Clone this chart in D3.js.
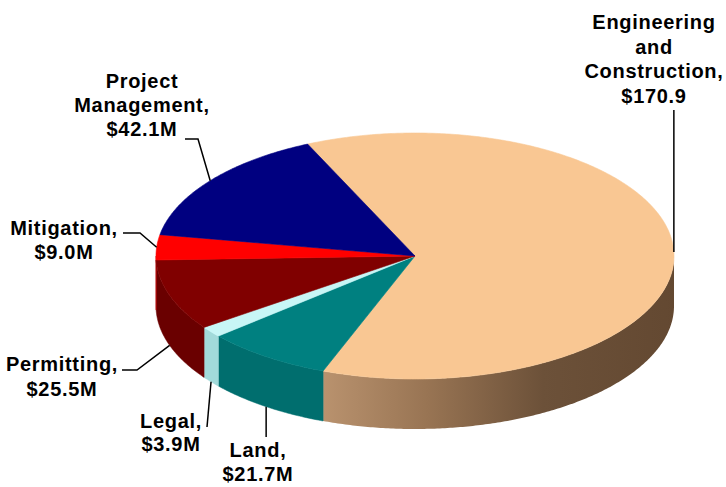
<!DOCTYPE html>
<html>
<head>
<meta charset="utf-8">
<script src="https://cdn.jsdelivr.net/npm/d3@7"></script>
<style>
  html, body { margin: 0; padding: 0; background: #ffffff; }
  svg { display: block; }
  .lbl { font-family: "Liberation Sans", Arial, sans-serif; font-weight: bold; font-size: 20px; fill: #000; letter-spacing: 0.7px; }
</style>
</head>
<body>
<script>
// ---- Data ----
const categories = ["Engineering and Construction", "Land", "Legal", "Permitting", "Mitigation", "Project Management"];
const values = [170.9, 21.7, 3.9, 25.5, 9.0, 42.1];
const labelLines = [
  ["Engineering", "and", "Construction,", "$170.9"],
  ["Land,", "$21.7M"],
  ["Legal,", "$3.9M"],
  ["Permitting,", "$25.5M"],
  ["Mitigation,", "$9.0M"],
  ["Project", "Management,", "$42.1M"]
];

// ---- Styles ----
const topColors  = ["#F9C793", "#008080", "#C8F6F6", "#800000", "#FF0000", "#000080"];
const sideColors = [null,       "#006E6E", "#A2DADA", "#6A0000", "#C00000", "#000060"];

// ---- Layout ----
const W = 726, H = 487;
const cx = 415, cy = 256, rx = 259, ry = 123, depth = 50;
const startDeg = -24.5;
// label layout: text centre x, first baseline y, line height, leader points (after anchor)
const labelLayout = [
  { x: 654, y: 29, lh: 24.5, leader: a => [[a[0], 110]] },
  { x: 258, y: 457, lh: 24, leader: a => [[a[0], 437]] },
  { x: 171, y: 428, lh: 23, leader: a => [[207, 427]] },
  { x: 62, y: 371, lh: 25, leader: a => [[137, 370], [122, 370]] },
  { x: 64, y: 235, lh: 24, leader: a => [[140, 233], [123, 233]] },
  { x: 142, y: 88, lh: 24, leader: a => [[198, 139], [185, 139]] }
];

const svg = d3.select("body").append("svg").attr("width", W).attr("height", H);
const defs = svg.append("defs");

const pie = d3.pie().sort(null).value(d => d)
  .startAngle(startDeg * Math.PI / 180)
  .endAngle(startDeg * Math.PI / 180 + 2 * Math.PI);
const arcs = pie(values);

const pt = (a, dy = 0) => [cx + rx * Math.sin(a), cy - ry * Math.cos(a) + dy];
const sample = (a0, a1, dy) => {
  const n = Math.max(2, Math.ceil(Math.abs(a1 - a0) / 0.01));
  return d3.range(n + 1).map(i => pt(a0 + (a1 - a0) * i / n, dy));
};

// side gradient for the large slice
const g0 = defs.append("linearGradient").attr("id", "sideGrad0")
  .attr("gradientUnits", "userSpaceOnUse").attr("x1", 320).attr("x2", 680).attr("y1", 0).attr("y2", 0);
g0.append("stop").attr("offset", "0").attr("stop-color", "#BA936F");
g0.append("stop").attr("offset", "0.3").attr("stop-color", "#987453");
g0.append("stop").attr("offset", "0.62").attr("stop-color", "#6C5139");
g0.append("stop").attr("offset", "1").attr("stop-color", "#634831");

// ---- Side walls (front half only) ----
const sides = svg.append("g");
arcs.forEach((d, i) => {
  const f0 = Math.max(d.startAngle, Math.PI / 2);
  const f1 = Math.min(d.endAngle, 3 * Math.PI / 2);
  if (f1 <= f0) return;
  const topPts = sample(f0, f1, 0);
  const botPts = sample(f1, f0, depth);
  const path = "M" + topPts.concat(botPts).map(p => p.join(",")).join("L") + "Z";
  sides.append("path").attr("d", path)
    .attr("fill", i === 0 ? "url(#sideGrad0)" : sideColors[i])
    .attr("stroke", i === 0 ? "none" : sideColors[i]).attr("stroke-width", 0.5);
});

// ---- Top faces ----
const tops = svg.append("g");
arcs.forEach((d, i) => {
  const pts = sample(d.startAngle, d.endAngle, 0);
  const path = "M" + [cx, cy].join(",") + "L" + pts.map(p => p.join(",")).join("L") + "Z";
  tops.append("path").attr("d", path)
    .attr("fill", topColors[i]).attr("stroke", topColors[i]).attr("stroke-width", 0.6)
    .attr("stroke-linejoin", "round");
});

// ---- Labels & leaders ----
const lab = svg.append("g");
arcs.forEach((d, i) => {
  const mid = (d.startAngle + d.endAngle) / 2;
  const front = Math.cos(mid) < -0.2;
  const anchor = pt(mid, front ? depth : 0);
  const L = labelLayout[i];
  const pts = [anchor].concat(L.leader(anchor));
  lab.append("path").attr("d", d3.line()(pts))
    .attr("fill", "none").attr("stroke", "#000").attr("stroke-width", 1.5);
  const t = lab.append("text").attr("class", "lbl").attr("text-anchor", "middle");
  labelLines[i].forEach((s, k) => {
    t.append("tspan").attr("x", L.x).attr("y", L.y + k * L.lh).text(s);
  });
});
</script>
</body>
</html>
